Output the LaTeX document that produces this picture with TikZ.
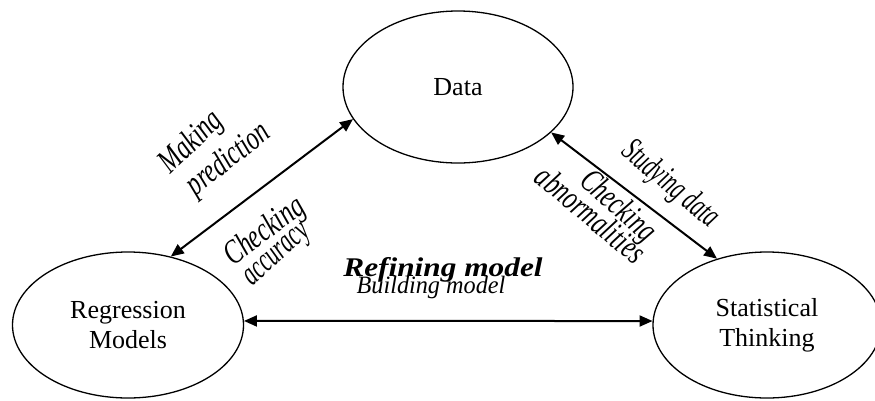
\documentclass[tikz,border=0pt]{standalone}
\usepackage{fontspec}
\setmainfont{Liberation Serif}
\usetikzlibrary{shapes.geometric,arrows.meta}
\tikzset{
  oval/.style={draw, ellipse, line width=1.3pt, inner sep=0pt, align=center,
    font=\fontsize{26}{30}\selectfont},
  link/.style={line width=2pt, {Triangle[length=13pt,width=11pt]}-{Triangle[length=13pt,width=11pt]}},
  lab/.style={inner sep=0pt, font=\fontsize{34}{34}\selectfont\itshape},
  mlab/.style={inner sep=0pt, anchor=base, font=\fontsize{25}{25}\selectfont\itshape},
  blab/.style={inner sep=0pt, anchor=base, font=\fontsize{27}{27}\selectfont\bfseries\itshape}
}
\begin{document}
\begin{tikzpicture}[x=1pt,y=-1pt]
\useasboundingbox (0,0) rectangle (875,400);
\node[oval, minimum width=230pt, minimum height=152pt] (data) at (458,87) {Data};
\node[oval, minimum width=231pt, minimum height=146pt] (reg) at (128,325) {Regression\\Models};
\node[oval, minimum width=228pt, minimum height=146pt] (stat) at (767,325) {Statistical\\Thinking};

\draw[link] (reg.58.6) -- (data.197);
\draw[link] (data.334) -- (stat.127.4);
\draw[link] (reg.2) -- (stat.178);

\node[lab, rotate=44] (l1) at (192,143) {\scalebox{0.72}[1]{Making}};
\node[lab, rotate=38] (l2) at (229,160) {\scalebox{0.7}[1]{prediction}};
\node[lab, rotate=37] (l3) at (265,232) {\scalebox{0.72}[1]{Checking}};
\node[lab, rotate=42] (l4) at (279,257) {\scalebox{0.63}[1]{accuracy}};
\node[lab, rotate=-40] (r1) at (670,185) {\scalebox{0.62}[1]{Studying data}};
\node[lab, rotate=-42] (r2) at (617,207) {\scalebox{0.7}[1]{Checking}};
\node[lab, rotate=-40] (r3) at (591,214) {\scalebox{0.7}[1]{abnormalities}};
\node[blab] (m1) at (443,276) {\scalebox{1.16}[1]{Refining model}};
\node[mlab] (m2) at (431,293) {\scalebox{0.97}[1]{Building model}};
\end{tikzpicture}
\end{document}
